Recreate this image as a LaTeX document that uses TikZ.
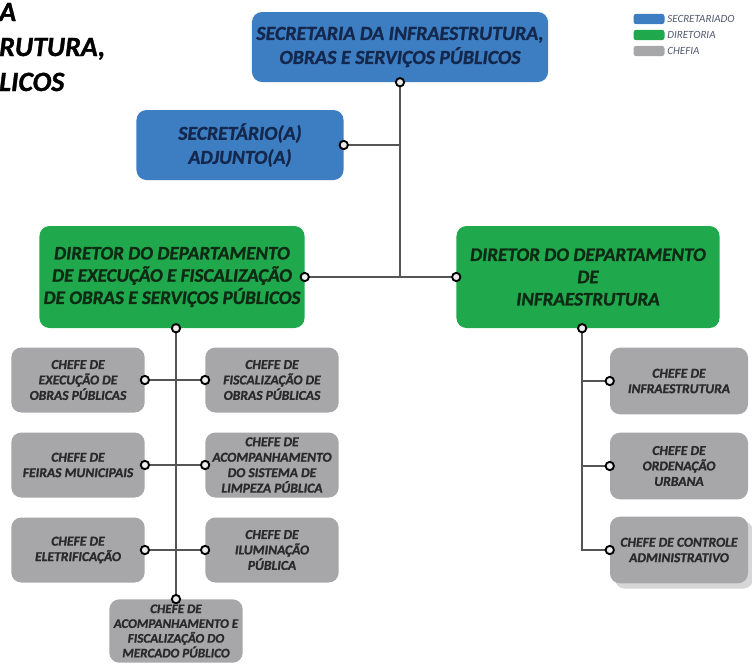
\documentclass[tikz,border=0pt]{standalone}
\usepackage{fontspec}
\setmainfont{Carlito}[BoldItalicFeatures={FakeBold=1.2}]
\usetikzlibrary{positioning}

\definecolor{secblue}{HTML}{3D7DC2}
\definecolor{secink}{HTML}{14284D}
\definecolor{dirgreen}{HTML}{20A84C}
\definecolor{dirink}{HTML}{0E2A14}
\definecolor{chefgray}{HTML}{A7A7A9}
\definecolor{chefink}{HTML}{2A2A2C}
\definecolor{linkgray}{HTML}{555555}
\definecolor{legink}{HTML}{525A6E}

\begin{document}
\begin{tikzpicture}[x=0.03cm,y=-0.03cm,
    box/.style={rounded corners=0.3cm,align=center,inner sep=0pt,font=\bfseries\itshape},
    secbox/.style={box,fill=secblue,text=secink},
    dirbox/.style={box,fill=dirgreen,text=dirink,font=\bfseries\itshape\fontsize{16.3}{19}\selectfont},
    chefbox/.style={box,fill=chefgray,text=chefink,minimum width=4cm,minimum height=1.95cm,font=\bfseries\itshape\fontsize{11.6}{13.2}\selectfont},
    dotmark/.style={circle,draw=black,line width=1.6pt,fill=white!85!gray,minimum size=0.25cm,inner sep=0pt},
    link/.style={draw=linkgray,line width=1.4pt},
    legendbox/.style={rounded corners=0.08cm,minimum width=0.93cm,minimum height=0.31cm,inner sep=0pt},
    legendtext/.style={anchor=west,text=legink,font=\itshape\fontsize{9.4}{10}\selectfont}]
    \useasboundingbox[fill=white] (0,0) rectangle (752,663);

    % cropped title
    \node[anchor=base west,inner sep=0pt,font=\bfseries\itshape\fontsize{23.8}{24}\selectfont] (titleA) at (-1,21) {A};
    \node[anchor=base west,inner sep=0pt,font=\bfseries\itshape\fontsize{23.8}{24}\selectfont] (titleB) at (-1,56) {RUTURA,};
    \node[anchor=base west,inner sep=0pt,font=\bfseries\itshape\fontsize{23.8}{24}\selectfont] (titleC) at (-1,91) {LICOS};

    % legend
    \node[legendbox,fill=secblue] (legsec) at (649,19) {};
    \node[legendbox,fill=dirgreen] (legdir) at (649,35) {};
    \node[legendbox,fill=chefgray] (legchef) at (649,51) {};
    \node[legendtext,inner sep=2pt] at (legsec.east) {SECRETARIADO};
    \node[legendtext,inner sep=2pt] at (legdir.east) {DIRETORIA};
    \node[legendtext,inner sep=2pt] at (legchef.east) {CHEFIA};

    \node[secbox,minimum width=8.88cm,minimum height=2.1cm,font=\bfseries\itshape\fontsize{17}{20.5}\selectfont] (sec) at (400,47) {SECRETARIA DA INFRAESTRUTURA,\\OBRAS E SERVIÇOS PÚBLICOS};
    \node[secbox,minimum width=6.21cm,minimum height=2.1cm,font=\bfseries\itshape\fontsize{16.8}{20.5}\selectfont] (adj) at (240,145) {SECRETÁRIO(A)\\ADJUNTO(A)};

    \node[dirbox,minimum width=7.95cm,minimum height=3.06cm] (direxec) at (172,277) {DIRETOR DO DEPARTAMENTO\\DE EXECUÇÃO E FISCALIZAÇÃO\\DE OBRAS E SERVIÇOS PÚBLICOS};
    \node[dirbox,minimum width=7.89cm,minimum height=3.06cm] (dirinfra) at (588,277) {DIRETOR DO DEPARTAMENTO\\DE\\INFRAESTRUTURA};

    \node[chefbox] (execobras) at (78,380) {CHEFE DE\\EXECUÇÃO DE\\OBRAS PÚBLICAS};
    \node[chefbox] (fiscobras) at (272,380) {CHEFE DE\\FISCALIZAÇÃO DE\\OBRAS PÚBLICAS};
    \node[chefbox] (feiras) at (78,465) {CHEFE DE\\FEIRAS MUNICIPAIS};
    \node[chefbox] (limpeza) at (272,465) {CHEFE DE\\ACOMPANHAMENTO\\DO SISTEMA DE\\LIMPEZA PÚBLICA};
    \node[chefbox] (eletrif) at (78,550) {CHEFE DE\\ELETRIFICAÇÃO};
    \node[chefbox] (ilumin) at (272,550) {CHEFE DE\\ILUMINAÇÃO\\PÚBLICA};
    \node[chefbox,minimum height=1.9cm,font=\bfseries\itshape\fontsize{11.2}{12.6}\selectfont] (mercado) at (176,631) {CHEFE DE\\ACOMPANHAMENTO E\\FISCALIZAÇÃO DO\\MERCADO PÚBLICO};

    \node[chefbox,minimum width=4.14cm,minimum height=2cm] (infra) at (679,381) {CHEFE DE\\INFRAESTRUTURA};
    \node[chefbox,minimum width=4.14cm,minimum height=2cm] (ordem) at (679,466) {CHEFE DE\\ORDENAÇÃO\\URBANA};
    \node[chefbox,minimum width=4.14cm,minimum height=2cm,fill=none] (controle) at (679,550) {};
    \fill[chefgray!45,rounded corners=0.3cm] ([shift={(5,5)}]controle.north west) rectangle ([shift={(5,5)}]controle.south east);
    \node[chefbox,minimum width=4.14cm,minimum height=2cm] at (controle) {CHEFE DE CONTROLE\\ADMINISTRATIVO};

    % connectors
    \coordinate (trunkR) at ([xshift=-5]dirinfra.south);
    \coordinate (trunkL) at (direxec.south -| mercado.north);
    \path[link] (sec.south) -- (sec.south |- direxec.east);
    \path[link] (adj.east) -- (adj.east -| sec.south);
    \path[link] (direxec.east) -- (dirinfra.west);
    \path[link] (trunkL) -- (mercado.north);
    \path[link] (execobras.east) -- (fiscobras.west);
    \path[link] (feiras.east) -- (limpeza.west);
    \path[link] (eletrif.east) -- (ilumin.west);
    \path[link] (trunkR) |- (controle.west);
    \path[link] (infra.west) -- (infra.west -| trunkR);
    \path[link] (ordem.west) -- (ordem.west -| trunkR);

    \foreach \spot in {sec.south,adj.east,direxec.east,dirinfra.west,trunkL,trunkR,mercado.north,execobras.east,fiscobras.west,feiras.east,limpeza.west,eletrif.east,ilumin.west,infra.west,ordem.west,controle.west}
        \node[dotmark] at (\spot) {};
\end{tikzpicture}
\end{document}
